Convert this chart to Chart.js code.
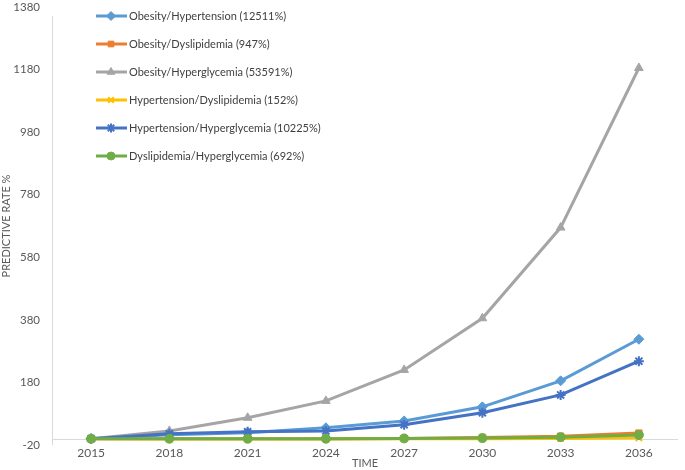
<!DOCTYPE html>
<html><head><meta charset="utf-8">
<script src="https://cdn.jsdelivr.net/npm/chart.js@4/dist/chart.umd.min.js"></script>
<style>html,body{margin:0;padding:0;background:#fff}</style>
</head><body>
<canvas id="c" width="685" height="470"></canvas>
<script>
const years = ['2015','2018','2021','2024','2027','2030','2033','2036'];
const seriesNames = [
  'Obesity/Hypertension (12511%)',
  'Obesity/Dyslipidemia (947%)',
  'Obesity/Hyperglycemia (53591%)',
  'Hypertension/Dyslipidemia (152%)',
  'Hypertension/Hyperglycemia (10225%)',
  'Dyslipidemia/Hyperglycemia (692%)'
];
const obesityHypertension     = [0, 13, 19, 35, 57, 102, 185, 318];
const obesityDyslipidemia     = [0, 0, 0, 0, 1, 4, 8, 18];
const obesityHyperglycemia    = [0, 25, 67, 121, 220, 385, 675, 1185];
const hypertensionDyslipidemia= [0, -1, -1, -1, 0, 0, 1, 3];
const hypertensionHyperglycemia=[0, 16, 22, 25, 45, 83, 140, 248];
const dyslipidemiaHyperglycemia=[0, 0, 0, 0, 1, 2, 5, 12];
const yMin = -20, yMax = 1380, yStep = 200;

const colors = ['#5B9BD5','#ED7D31','#A5A5A5','#FFC000','#4472C4','#70AD47'];
const styles = ['rectRot','rect','triangle','crossRot','star','circle'];
const radii  = [5, 4.5, 5, 4.5, 5, 4.5];
const allData = [obesityHypertension, obesityDyslipidemia, obesityHyperglycemia,
                 hypertensionDyslipidemia, hypertensionHyperglycemia, dyslipidemiaHyperglycemia];

const datasets = allData.map((d,i)=>({
  label: seriesNames[i],
  data: d,
  borderColor: colors[i],
  backgroundColor: colors[i],
  pointBackgroundColor: colors[i],
  pointBorderColor: colors[i],
  pointStyle: styles[i],
  pointRadius: radii[i],
  pointBorderWidth: styles[i]==='crossRot'||styles[i]==='star' ? 2 : 1,
  borderWidth: 3,
  tension: 0,
  order: 6 - i
}));

const axisLines = {
  id: 'axisLines',
  beforeDatasetsDraw(chart){
    const ctx = chart.ctx, ca = chart.chartArea, ys = chart.scales.y;
    const y0 = Math.round(ys.getPixelForValue(0)) + 0.5;
    const xl = Math.round(ca.left) + 0.5;
    ctx.save();
    ctx.strokeStyle = '#D9D9D9';
    ctx.lineWidth = 1;
    ctx.beginPath();
    ctx.moveTo(xl, ca.top + 9); ctx.lineTo(xl, ca.bottom);
    ctx.moveTo(ca.left, y0); ctx.lineTo(ca.right, y0);
    ctx.stroke();
    ctx.restore();
  }
};

const boxLegend = {
  id: 'boxLegend',
  afterDraw(chart){
    const ctx = chart.ctx;
    chart.data.datasets.forEach((ds,i)=>{
      const y = 16 + i*28;
      ctx.save();
      ctx.strokeStyle = ds.borderColor;
      ctx.lineWidth = 3;
      ctx.beginPath(); ctx.moveTo(96,y); ctx.lineTo(127,y); ctx.stroke();
      ctx.fillStyle = ds.pointBackgroundColor;
      ctx.strokeStyle = ds.pointBorderColor;
      ctx.lineWidth = ds.pointBorderWidth;
      Chart.helpers.drawPoint(ctx, {pointStyle: ds.pointStyle, radius: ds.pointRadius - 0.5, borderWidth: ds.pointBorderWidth, rotation:0}, 111, y);
      ctx.fillStyle = '#404040';
      ctx.font = '11px Lato';
      ctx.textBaseline = 'middle';
      ctx.textAlign = 'left';
      ctx.fillText(ds.label, 129, y);
      ctx.restore();
    });
  }
};

new Chart(document.getElementById('c'), {
  type: 'line',
  data: { labels: years, datasets },
  options: {
    responsive: false,
    animation: false,
    devicePixelRatio: 1,
    layout: { padding: { top: 4, right: 4, bottom: 0, left: 0 } },
    plugins: { legend: { display: false }, tooltip: { enabled: false } },
    scales: {
      x: {
        type: 'category',
        offset: true,
        grid: { display: false, drawTicks: false },
        border: { display: false },
        ticks: { color: '#595959', font: { size: 12, family: 'Lato' }, padding: 1, maxRotation: 0, autoSkip: false },
        title: { display: true, text: 'TIME', color: '#595959', font: { size: 11, family: 'Lato' }, padding: 0 },
        afterFit(s){ s.height = 25; s.paddingLeft = 0; s.paddingRight = 0; }
      },
      y: {
        min: yMin, max: yMax,
        ticks: { stepSize: yStep, color: '#595959', font: { size: 11.5, family: 'Lato' }, padding: 12,
                 callback: v => String(v) },
        grid: { display: false, drawTicks: false },
        border: { display: false },
        title: { display: true, text: 'PREDICTIVE RATE %', color: '#595959', font: { size: 11, family: 'Lato' }, padding: 0 },
        afterFit(s){ s.width = 52; s.paddingTop = 0; s.paddingBottom = 0; }
      }
    }
  },
  plugins: [axisLines, boxLegend]
});
</script>
</body></html>
